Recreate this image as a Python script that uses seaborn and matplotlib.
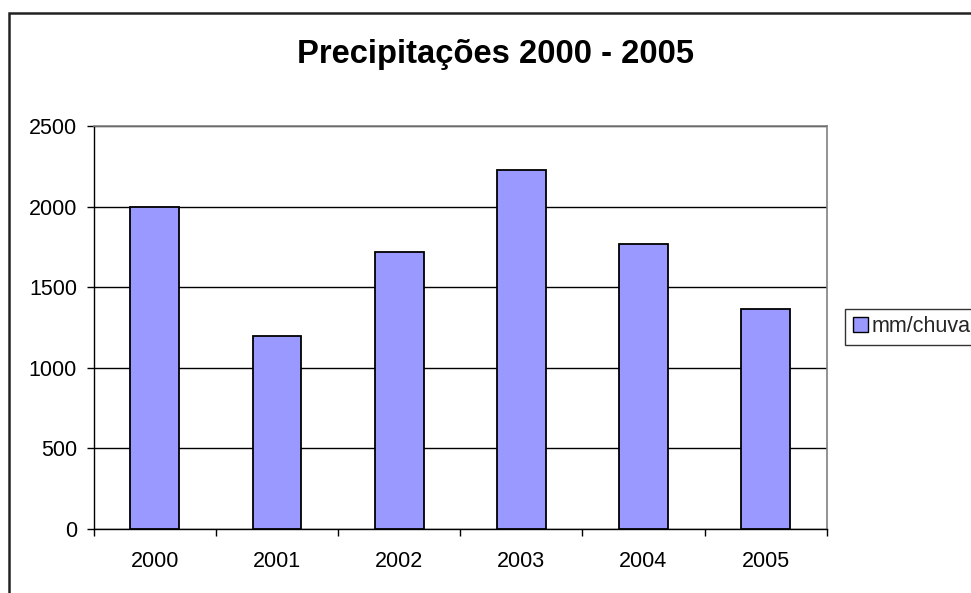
import matplotlib
matplotlib.use("Agg")
import matplotlib.pyplot as plt
import seaborn as sns
import pandas as pd
from matplotlib.patches import Patch, Rectangle

years = ["2000", "2001", "2002", "2003", "2004", "2005"]
rain_mm = [2000, 1200, 1720, 2230, 1765, 1365]
y_ticks = [0, 500, 1000, 1500, 2000, 2500]
title = "Precipitações 2000 - 2005"
series_label = "mm/chuva"

sns.set_theme(style="white")
plt.rcParams["font.family"] = ["Liberation Sans", "DejaVu Sans"]

df = pd.DataFrame({"ano": years, "mm": rain_mm})

W, H = 971, 593
fig = plt.figure(figsize=(W / 100, H / 100), dpi=100)
fig.patch.set_facecolor("white")
ax = fig.add_axes([93.7 / W, 1 - 529 / H, (826.7 - 93.7) / W, (529 - 126) / H])

bar_color = "#9999FF"
sns.barplot(data=df, x="ano", y="mm", color=bar_color, saturation=1,
            edgecolor="black", linewidth=1.3, width=0.4, ax=ax, zorder=3)

ax.set_xlim(-0.5, 5.5)
ax.set_ylim(0, 2500)
ax.set_yticks(y_ticks)
ax.set_yticklabels([str(v) for v in y_ticks])
ax.set_xlabel("")
ax.set_ylabel("")

ax.yaxis.grid(True, color="black", linewidth=1.0, zorder=0)
ax.xaxis.grid(False)
ax.set_axisbelow(True)

for s in ["left", "bottom"]:
    ax.spines[s].set_color("black")
    ax.spines[s].set_linewidth(1.0)
for s in ["top", "right"]:
    ax.spines[s].set_color("#808080")
    ax.spines[s].set_linewidth(1.2)

ax.tick_params(axis="y", which="major", direction="out", length=5, width=1,
               color="black", pad=7, labelsize=15.5, left=True)
ax.tick_params(axis="x", which="major", length=0, pad=16, labelsize=15.5)
ax.set_xticks([i - 0.5 for i in range(len(years) + 1)], minor=True)
ax.tick_params(axis="x", which="minor", direction="out", length=5, width=1,
               color="black", bottom=True)
for lbl in ax.get_xticklabels() + ax.get_yticklabels():
    lbl.set_color("black")

fig.text(495 / W, 1 - 54 / H, title, ha="center", va="center",
         fontsize=23.6, fontweight="bold", color="black")

handle = Patch(facecolor=bar_color, edgecolor="black", linewidth=1.0)
leg = fig.legend(handles=[handle], labels=[series_label], loc="upper left",
                 bbox_to_anchor=(845 / W, 1 - 308.7 / H), borderaxespad=0,
                 fontsize=15.5, frameon=True, fancybox=False, handlelength=0.7,
                 handleheight=0.7, handletextpad=0.2, borderpad=0.35)
leg.get_frame().set_edgecolor("black")
leg.get_frame().set_linewidth(1.0)

fig.patches.append(Rectangle((9 / W, -0.1), 1.2, 1 - 13 / H + 0.1,
                             transform=fig.transFigure, fill=False,
                             edgecolor="#222222", linewidth=1.8, zorder=10))

fig.savefig("out.png", dpi=100, facecolor="white")
